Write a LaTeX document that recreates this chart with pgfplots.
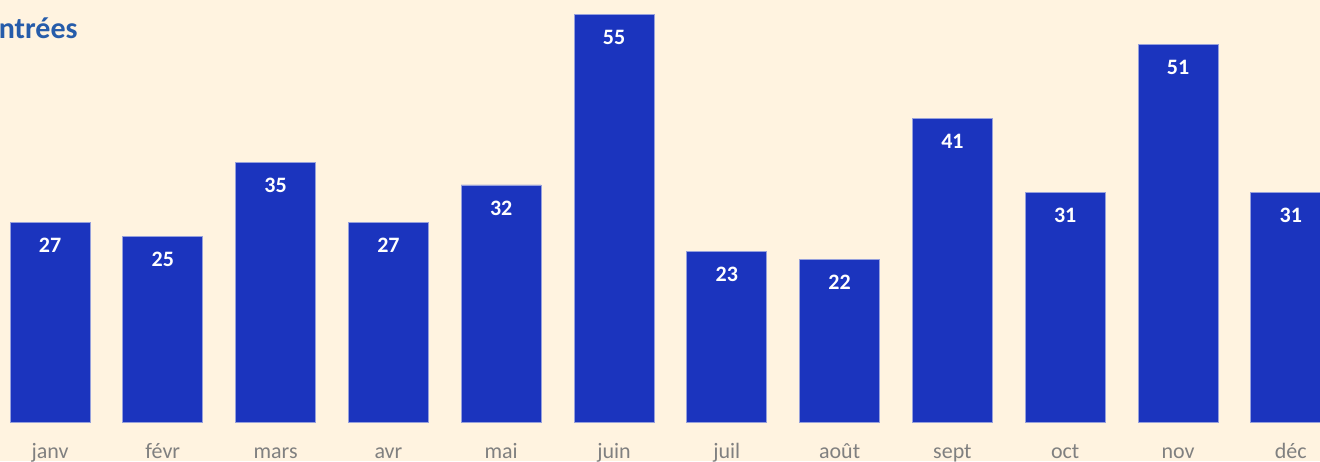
\documentclass[border=0pt]{standalone}
\usepackage{fontspec}
\setmainfont{Carlito}
\usepackage{pgfplots}
\pgfplotsset{compat=1.18}

\definecolor{bg}{RGB}{255,243,224}
\definecolor{barblue}{RGB}{27,52,190}
\definecolor{baredge}{RGB}{150,160,220}
\definecolor{titleblue}{RGB}{38,92,170}
\definecolor{labelgray}{RGB}{128,128,128}

\begin{document}
\begin{tikzpicture}
  % page is 1320x461 px, 1px = 0.5pt
  \fill[bg] (0,0) rectangle (660pt,230.5pt);
  \begin{scope}
    \clip (0,0) rectangle (660pt,230.5pt);
    \node[anchor=base east, inner sep=0pt, text=titleblue,
          font=\bfseries\fontsize{15}{18}\selectfont] at (39pt,211pt) {Entrées};
    \begin{axis}[
        at={(25pt,19.5pt)}, anchor=origin,
        x=56.4pt, y=3.7035pt,
        xmin=-0.6, xmax=11.6,
        ymin=0, ymax=58,
        axis line style={draw=none},
        ytick=\empty,
        xtick={0,...,11},
        xticklabels={janv,févr,mars,avr,mai,juin,juil,août,sept,oct,nov,déc},
        major tick length=0pt,
        xticklabel style={anchor=base, yshift=-18pt, text=labelgray,
                          font=\fontsize{11}{13}\selectfont},
        /pgf/number format/assume math mode=true,
        clip=false,
      ]
      \addplot[ybar, bar width=40pt, fill=barblue, draw=baredge, line width=0.4pt,
        nodes near coords,
        every node near coord/.append style={anchor=center, yshift=-11.5pt,
          text=white, font=\bfseries\fontsize{11}{13}\selectfont}]
        coordinates {(0,27) (1,25) (2,35) (3,27) (4,32) (5,55)
                     (6,23) (7,22) (8,41) (9,31) (10,51) (11,31)};
    \end{axis}
  \end{scope}
  \pgfresetboundingbox
  \useasboundingbox (0,0) rectangle (660pt,230.5pt);
\end{tikzpicture}
\end{document}
